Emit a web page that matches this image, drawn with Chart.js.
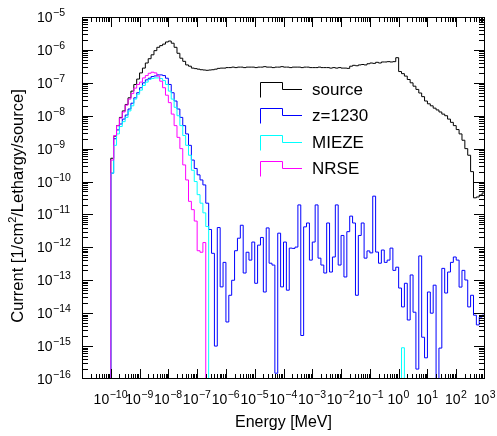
<!DOCTYPE html>
<html>
<head>
<meta charset="utf-8">
<script src="https://cdn.jsdelivr.net/npm/chart.js@4.4.1/dist/chart.umd.min.js"></script>
<style>
  body { margin: 0; background: #fff; }
  canvas { display: block; }
</style>
</head>
<body>
<canvas id="spectrum" width="497" height="436"></canvas>
<script>
// histogram binning: 10 log bins per decade, first edge at 1e-10 MeV
const firstEdgeExp = -10;
const binsPerDecade = 10;

// axis ranges (decades)
const xDecades = [-11, 3];
const yDecades = [-16, -5];

// current per bin [1/cm2/Lethargy/source]
const source = [
  5.1e-10, 2.4e-9, 5.0e-9, 8.9e-9, 1.4e-8, 2.2e-8, 3.5e-8, 5.6e-8, 8.9e-8, 1.3e-7,
  2.0e-7, 2.8e-7, 4.0e-7, 5.4e-7, 7.1e-7, 9.5e-7, 1.2e-6, 1.35e-6, 1.5e-6, 1.74e-6,
  1.86e-6, 1.6e-6, 1.2e-6, 7.9e-7, 5.6e-7, 4.5e-7, 3.5e-7, 3.2e-7, 2.8e-7, 2.7e-7,
  2.6e-7, 2.5e-7, 2.45e-7, 2.4e-7, 2.45e-7, 2.5e-7, 2.6e-7, 2.75e-7, 2.8e-7, 2.8e-7,
  2.9e-7, 2.9e-7, 3.0e-7, 2.9e-7, 3.0e-7, 3.0e-7, 2.9e-7, 3.0e-7, 3.0e-7, 3.0e-7,
  2.9e-7, 3.0e-7, 3.0e-7, 3.1e-7, 3.0e-7, 3.0e-7, 2.9e-7, 3.0e-7, 3.0e-7, 3.1e-7,
  3.0e-7, 3.0e-7, 2.9e-7, 3.0e-7, 3.0e-7, 3.0e-7, 2.9e-7, 3.0e-7, 3.0e-7, 2.9e-7,
  2.9e-7, 2.9e-7, 3.0e-7, 2.9e-7, 2.9e-7, 2.9e-7, 2.8e-7, 2.9e-7, 2.8e-7, 2.9e-7,
  2.8e-7, 2.8e-7, 2.75e-7, 3.2e-7, 3.4e-7, 3.3e-7, 3.5e-7, 3.6e-7, 3.5e-7, 3.8e-7,
  4.0e-7, 3.9e-7, 4.2e-7, 4.0e-7, 4.3e-7, 4.3e-7, 4.4e-7, 4.3e-7, 4.4e-7, 5.8e-7,
  2.2e-7, 1.9e-7, 1.6e-7, 1.26e-7, 1.0e-7, 7.9e-8, 6.3e-8, 4.9e-8, 3.8e-8, 2.8e-8,
  2.3e-8, 2.0e-8, 1.7e-8, 1.5e-8, 1.3e-8, 1.12e-8, 1.0e-8, 7.9e-9, 6.3e-9, 5.0e-9,
  3.8e-9, 2.8e-9, 1.8e-9, 1.0e-9, 6.3e-10, 2.0e-10, 3.2e-11, 3.4e-11, 3.9e-11, 4.5e-11
];

const z1230 = [
  1.8e-10, 2.0e-9, 3.7e-9, 5.6e-9, 7.9e-9, 1.05e-8, 1.6e-8, 2.4e-8, 3.5e-8, 5.0e-8,
  7.1e-8, 1.0e-7, 1.23e-7, 1.38e-7, 1.55e-7, 1.62e-7, 1.74e-7, 1.74e-7, 1.66e-7, 1.38e-7,
  8.9e-8, 5.0e-8, 2.8e-8, 1.6e-8, 8.9e-9, 5.0e-9, 2.8e-9, 1.26e-9, 4.5e-10, 2.5e-10,
  1.6e-10, 1.12e-10, 7.9e-11, 2.2e-11, 3.5e-12, 6.6e-13, 1.0e-15, 4.0e-12, 6.3e-14, 3.5e-13,
  5.4e-15, 3.5e-14, 1.0e-13, 7.9e-13, 1.9e-12, 4.7e-12, 1.66e-13, 7.1e-13, 4.1e-13, 1.45e-12,
  8.1e-14, 1.17e-12, 2.0e-12, 4.4e-14, 3.9e-12, 3.3e-13, 2.9e-13, 1.5e-16, 2.7e-12, 6.3e-14,
  1.45e-12, 5.0e-14, 9.5e-13, 9.3e-13, 1.02e-12, 1.95e-11, 2.1e-15, 4.2e-12, 5.5e-12, 4.1e-13,
  1.45e-12, 1.95e-11, 4.7e-13, 2.9e-13, 1.66e-13, 5.5e-12, 1.78e-13, 5.1e-13, 1.95e-11, 2.9e-13,
  2.3e-12, 1.26e-13, 3.0e-12, 8.9e-12, 5.5e-12, 3.5e-14, 2.3e-12, 5.5e-12, 4.7e-13, 7.8e-13,
  6.8e-13, 3.6e-11, 7.2e-13, 3.3e-13, 8.3e-13, 3.5e-13, 4.1e-13, 9.5e-13, 2.0e-13, 2.5e-13,
  5.8e-14, 1.55e-14, 8.1e-14, 6.2e-15, 1.45e-13, 1.07e-14, 2.0e-16, 5.5e-13, 1.86e-15, 4.4e-16,
  4.4e-14, 1.0e-14, 7.1e-14, 0, 8.7e-16, 2.3e-13, 4.1e-14, 1.78e-13, 3.5e-13, 5.1e-13,
  4.1e-13, 6.2e-14, 2.0e-13, 1.02e-13, 1.55e-14, 3.5e-14, 8.7e-15, 4.4e-15, 7.6e-15, 8.7e-15
];

const mieze = [
  1.8e-10, 1.26e-9, 2.8e-9, 4.7e-9, 6.6e-9, 8.9e-9, 1.4e-8, 2.0e-8, 3.2e-8, 4.5e-8,
  6.0e-8, 8.3e-8, 1.05e-7, 1.26e-7, 1.35e-7, 1.41e-7, 1.41e-7, 1.35e-7, 1.17e-7, 8.9e-8,
  5.6e-8, 3.2e-8, 1.8e-8, 1.0e-8, 5.0e-9, 2.5e-9, 1.26e-9, 6.3e-10, 2.2e-10, 1.0e-10,
  4.0e-11, 2.2e-11, 1.12e-11, 4.3e-12, 0, 0, 0, 0, 0, 0,
  0, 0, 0, 0, 0, 0, 0, 0, 0, 0,
  0, 0, 0, 0, 0, 0, 0, 0, 0, 0,
  0, 0, 0, 0, 0, 0, 0, 0, 0, 0,
  0, 0, 0, 0, 0, 0, 0, 0, 0, 0,
  0, 0, 0, 0, 0, 0, 0, 0, 0, 0,
  0, 0, 0, 0, 0, 0, 0, 0, 0, 0,
  0, 8.9e-16, 0, 0, 0, 0, 0, 0, 0, 0,
  0, 0, 0, 0, 0, 0, 0, 0, 0, 0,
  0, 0, 0, 0, 0, 0, 0, 0, 0, 0
];

const nrse = [
  4.5e-10, 2.5e-9, 5.0e-9, 8.5e-9, 1.3e-8, 2.1e-8, 3.2e-8, 4.7e-8, 6.9e-8, 8.9e-8,
  1.05e-7, 1.41e-7, 1.66e-7, 1.95e-7, 2.1e-7, 2.0e-7, 1.6e-7, 1.12e-7, 7.1e-8, 4.2e-8,
  2.5e-8, 1.12e-8, 5.0e-9, 2.2e-9, 1.0e-9, 3.2e-10, 1.12e-10, 2.5e-11, 1.4e-11, 6.3e-12,
  7.9e-13, 7.1e-13, 1.4e-12, 0, 0, 0, 0, 0, 0, 0,
  0, 0, 0, 0, 0, 0, 0, 0, 0, 0,
  0, 0, 0, 0, 0, 0, 0, 0, 0, 0,
  0, 0, 0, 0, 0, 0, 0, 0, 0, 0,
  0, 0, 0, 0, 0, 0, 0, 0, 0, 0,
  0, 0, 0, 0, 0, 0, 0, 0, 0, 0,
  0, 0, 0, 0, 0, 0, 0, 0, 0, 0,
  0, 0, 0, 0, 0, 0, 0, 0, 0, 0,
  0, 0, 0, 0, 0, 0, 0, 0, 0, 0,
  0, 0, 0, 0, 0, 0, 0, 0, 0, 0
];

const seriesLabels = ['source', 'z=1230', 'MIEZE', 'NRSE'];
const seriesColors = ['#000000', '#0000ff', '#00ffff', '#ff00ff'];

const FONT = "'Liberation Sans', Arial, Helvetica, sans-serif";

// bin edges
const edges = [];
for (let i = 0; i <= source.length; i++) {
  edges.push(Math.pow(10, firstEdgeExp + i / binsPerDecade));
}

// empty bins are drawn down to the bottom of the frame, like ROOT does
const EMPTY = 1e-30;
function histPoints(values) {
  const pts = [{ x: edges[0], y: EMPTY }];
  values.forEach((v, i) => pts.push({ x: edges[i], y: v > 0 ? v : EMPTY }));
  const last = values[values.length - 1];
  pts.push({ x: edges[values.length], y: last > 0 ? last : EMPTY });
  return pts;
}

const allSeries = [source, z1230, mieze, nrse];

// text like 10^-5 with a raised exponent
function drawPower(ctx, exp, x, y, align) {
  const base = '10';
  const sup = exp < 0 ? '\u2212' + Math.abs(exp) : String(exp);
  ctx.font = '14px ' + FONT;
  const wb = ctx.measureText(base).width;
  ctx.font = '10.5px ' + FONT;
  const ws = ctx.measureText(sup).width;
  let x0 = x;
  if (align === 'center') x0 = x - (wb + ws + 1) / 2;
  ctx.textAlign = 'left';
  ctx.textBaseline = 'alphabetic';
  ctx.font = '14px ' + FONT;
  ctx.fillText(base, x0, y);
  ctx.font = '10.5px ' + FONT;
  ctx.fillText(sup, x0 + wb + 0.5, y - 6);
}

const rootFrame = {
  id: 'rootFrame',
  afterDraw(chart) {
    const { ctx, chartArea: a, scales: { x, y } } = chart;
    ctx.save();
    ctx.strokeStyle = '#000';
    ctx.fillStyle = '#000';
    ctx.lineWidth = 1;

    ctx.strokeRect(a.left + 0.5, a.top + 0.5, a.right - a.left - 1, a.bottom - a.top - 1);

    // tick marks, inside the frame on all four sides
    ctx.beginPath();
    for (let n = xDecades[0]; n < xDecades[1]; n++) {
      for (let k = 1; k <= 9; k++) {
        const px = Math.round(x.getPixelForValue(k * Math.pow(10, n))) + 0.5;
        if (px <= a.left + 1 || px >= a.right - 1) continue;
        const len = k === 1 ? 10 : 5;
        ctx.moveTo(px, a.bottom); ctx.lineTo(px, a.bottom - len);
        ctx.moveTo(px, a.top); ctx.lineTo(px, a.top + len);
      }
    }
    for (let n = yDecades[0]; n < yDecades[1]; n++) {
      for (let k = 1; k <= 9; k++) {
        const py = Math.round(y.getPixelForValue(k * Math.pow(10, n))) + 0.5;
        if (py <= a.top + 1 || py >= a.bottom - 1) continue;
        const len = k === 1 ? 11 : 6;
        ctx.moveTo(a.left, py); ctx.lineTo(a.left + len, py);
        ctx.moveTo(a.right, py); ctx.lineTo(a.right - len, py);
      }
    }
    ctx.stroke();

    // tick labels
    for (let n = xDecades[0] + 1; n <= xDecades[1]; n++) {
      drawPower(ctx, n, x.getPixelForValue(Math.pow(10, n)), a.bottom + 25, 'center');
    }
    for (let n = yDecades[0]; n <= yDecades[1]; n++) {
      drawPower(ctx, n, 37, y.getPixelForValue(Math.pow(10, n)) + 5, 'left');
    }

    // axis titles
    ctx.font = '16px ' + FONT;
    ctx.textAlign = 'center';
    ctx.textBaseline = 'alphabetic';
    ctx.fillText('Energy [MeV]', (a.left + a.right) / 2, a.bottom + 48);

    ctx.save();
    ctx.translate(23, 206);
    ctx.rotate(-Math.PI / 2);
    const t1 = 'Current [1/cm', t2 = '2', t3 = '/Lethargy/source]';
    ctx.font = '16.5px ' + FONT;
    const w1 = ctx.measureText(t1).width, w3 = ctx.measureText(t3).width;
    ctx.font = '11px ' + FONT;
    const w2 = ctx.measureText(t2).width;
    let tx = -(w1 + w2 + w3) / 2;
    ctx.textAlign = 'left';
    ctx.font = '16.5px ' + FONT;
    ctx.fillText(t1, tx, 0);
    ctx.font = '11px ' + FONT;
    ctx.fillText(t2, tx + w1, -7);
    ctx.font = '16.5px ' + FONT;
    ctx.fillText(t3, tx + w1 + w2, 0);
    ctx.restore();

    // legend
    const lx0 = 260, lx1 = 282, lx2 = 302, ltext = 312;
    const ly = [89, 115, 142, 168];
    chart.data.datasets.forEach((ds, i) => {
      const yc = ly[i] + 0.5;
      ctx.strokeStyle = ds.borderColor;
      ctx.beginPath();
      ctx.moveTo(lx0 + 0.5, yc + 8);
      ctx.lineTo(lx0 + 0.5, yc - 7);
      ctx.lineTo(lx1 + 0.5, yc - 7);
      ctx.lineTo(lx1 + 0.5, yc);
      ctx.lineTo(lx2, yc);
      ctx.stroke();
      ctx.fillStyle = '#000';
      ctx.font = '17px ' + FONT;
      ctx.textAlign = 'left';
      ctx.textBaseline = 'middle';
      ctx.fillText(ds.label, ltext, ly[i] + 1);
    });
    ctx.restore();
  }
};

new Chart(document.getElementById('spectrum'), {
  type: 'line',
  data: {
    datasets: allSeries.map((vals, i) => ({
      label: seriesLabels[i],
      data: histPoints(vals),
      borderColor: seriesColors[i],
      borderWidth: 1,
      pointRadius: 0,
      stepped: 'before',
      fill: false,
      order: allSeries.length - i
    }))
  },
  options: {
    responsive: false,
    devicePixelRatio: 1,
    animation: false,
    layout: { padding: { left: 82, top: 17, right: 12, bottom: 57 } },
    plugins: { legend: { display: false }, tooltip: { enabled: false } },
    scales: {
      x: {
        type: 'logarithmic',
        display: false,
        min: Math.pow(10, xDecades[0]),
        max: Math.pow(10, xDecades[1])
      },
      y: {
        type: 'logarithmic',
        display: false,
        min: Math.pow(10, yDecades[0]),
        max: Math.pow(10, yDecades[1])
      }
    }
  },
  plugins: [rootFrame]
});
</script>
</body>
</html>
